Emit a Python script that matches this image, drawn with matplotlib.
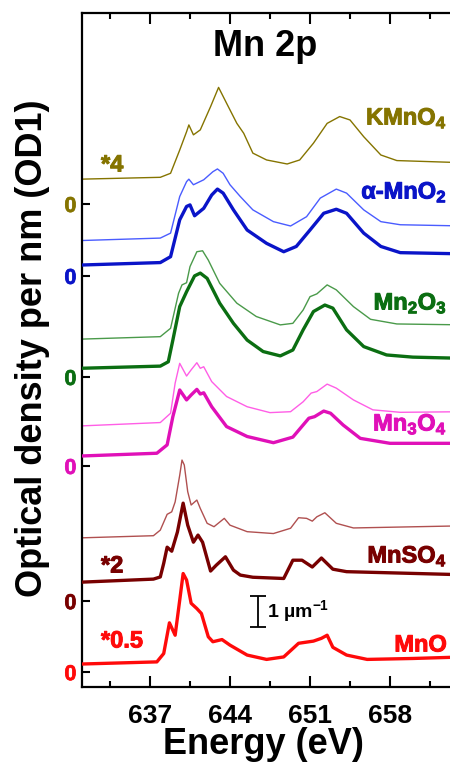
import matplotlib
matplotlib.use("Agg")
import matplotlib.pyplot as plt
import matplotlib.patheffects as pe
from matplotlib.ticker import MultipleLocator

plt.rcParams["font.family"] = ["Liberation Sans", "DejaVu Sans"]
plt.rcParams["font.weight"] = "bold"
plt.rcParams["axes.labelweight"] = "bold"
plt.rcParams["mathtext.fontset"] = "custom"
plt.rcParams["mathtext.bf"] = "Liberation Sans:bold"
plt.rcParams["mathtext.rm"] = "Liberation Sans:bold"
plt.rcParams["mathtext.default"] = "bf"

# ---- data: energies (eV) and optical density (um^-1) relative to each zero ----
names = [r"$\mathbf{KMnO_4}$", r"$\mathbf{α}$-$\mathbf{MnO_2}$", r"$\mathbf{Mn_2O_3}$",
         r"$\mathbf{Mn_3O_4}$", r"$\mathbf{MnSO_4}$", "MnO"]
zeros = [15.58, 13.26, 10.0, 7.13, 2.77, 0.48]
factors = ["*4", None, None, None, "*2", "*0.5"]
thick_colors = ["#857400", "#0a14c8", "#0b6e12", "#e010b8", "#780000", "#ff0a0a"]
thin_colors = ["#857400", "#4a5cff", "#4a9a4a", "#ff5ee6", "#b05050", None]

kmno4_e = [630.9, 637.9, 638.8, 639.6, 640.2, 640.4, 640.8, 641.4, 642.3, 643.0, 643.7,
           644.6, 645.2, 646.0, 647.2, 649.0, 650.1, 651.3, 652.5, 653.6, 654.5, 655.7,
           657.2, 658.6, 664.5]
kmno4_od = [0.80, 0.86, 0.99, 1.74, 2.33, 2.55, 2.23, 2.39, 3.14, 3.76, 3.25, 2.60, 2.28,
            1.64, 1.42, 1.29, 1.42, 1.96, 2.60, 2.82, 2.71, 2.17, 1.58, 1.40, 1.33]

amno2_thin_e = [630.9, 637.9, 638.8, 639.6, 640.2, 640.4, 640.8, 641.7, 642.5, 642.9, 643.4,
                644.0, 644.9, 646.0, 647.8, 649.3, 650.7, 651.9, 653.3, 654.2, 655.7, 657.2,
                658.9, 664.5]
amno2_thin_od = [1.14, 1.22, 1.38, 2.56, 3.04, 3.12, 2.94, 3.10, 3.36, 3.45, 3.31, 2.94, 2.56,
                 2.13, 1.75, 1.61, 1.91, 2.51, 2.80, 2.67, 2.13, 1.75, 1.65, 1.61]
amno2_e = [630.9, 637.9, 638.8, 639.6, 640.2, 640.5, 640.9, 641.7, 642.4, 642.9, 643.4, 644.3,
           645.5, 647.2, 648.7, 649.8, 651.0, 652.2, 653.3, 654.2, 655.7, 657.2, 658.9, 664.5]
amno2_od = [0.35, 0.43, 0.62, 1.81, 2.24, 2.29, 1.94, 2.18, 2.61, 2.80, 2.67, 2.13, 1.48, 1.05,
            0.78, 0.95, 1.48, 2.02, 2.15, 2.02, 1.38, 0.95, 0.75, 0.71]

mn2o3_thin_e = [630.9, 637.9, 638.8, 639.5, 639.8, 640.2, 640.5, 641.1, 641.6, 642.1, 643.1,
                644.6, 646.3, 648.4, 649.5, 650.4, 651.0, 651.6, 652.5, 653.3, 654.8, 656.3,
                658.6, 664.5]
mn2o3_thin_od = [1.22, 1.30, 1.57, 2.70, 2.97, 3.04, 3.56, 4.04, 4.07, 3.77, 3.02, 2.38, 1.95,
                 1.68, 1.73, 2.16, 2.59, 2.68, 2.97, 2.81, 2.27, 1.86, 1.71, 1.68]
mn2o3_e = [630.9, 637.9, 638.6, 639.0, 639.6, 640.2, 640.9, 641.4, 642.0, 643.1, 644.3, 645.5,
           646.9, 648.4, 649.5, 650.4, 651.3, 652.3, 653.0, 654.2, 655.7, 657.7, 660.0, 664.5]
mn2o3_od = [0.28, 0.35, 0.49, 1.19, 2.27, 2.75, 3.26, 3.35, 3.18, 2.38, 1.73, 1.19, 0.82, 0.68,
            0.87, 1.52, 2.11, 2.32, 2.22, 1.52, 0.98, 0.71, 0.64, 0.60]

mn3o4_thin_e = [630.9, 637.9, 638.8, 639.2, 639.6, 640.2, 640.6, 641.1, 641.4, 641.7, 642.4,
                643.7, 645.5, 647.5, 649.3, 650.4, 651.1, 651.6, 652.5, 653.3, 654.8, 656.5,
                658.9, 664.5]
mn3o4_thin_od = [1.29, 1.40, 1.70, 2.67, 3.31, 2.90, 3.10, 3.33, 3.15, 3.20, 2.72, 2.24, 1.91,
                 1.72, 1.75, 2.07, 2.35, 2.40, 2.64, 2.51, 2.13, 1.81, 1.73, 1.75]
mn3o4_e = [630.9, 637.6, 638.5, 639.0, 639.6, 640.2, 640.6, 641.1, 641.4, 641.7, 642.4, 643.7,
           645.5, 647.8, 649.5, 650.9, 651.4, 652.2, 652.8, 653.9, 655.4, 658.0, 664.5]
mn3o4_od = [0.32, 0.41, 0.68, 1.59, 2.45, 2.13, 2.29, 2.47, 2.32, 2.36, 1.91, 1.27, 0.95, 0.75,
            0.93, 1.54, 1.59, 1.77, 1.70, 1.32, 0.89, 0.73, 0.73]

mnso4_thin_e = [630.9, 637.3, 637.9, 638.5, 638.9, 639.2, 639.6, 639.8, 640.0, 640.3, 640.6,
                641.1, 641.4, 642.0, 642.6, 643.5, 644.0, 645.5, 647.8, 649.3, 650.0, 650.7,
                651.2, 651.6, 652.3, 653.3, 654.8, 664.5]
mnso4_thin_od = [2.04, 2.11, 2.29, 2.80, 2.88, 3.20, 4.06, 4.55, 4.39, 3.53, 3.10, 3.26, 2.99,
                 2.51, 2.40, 2.67, 2.45, 2.24, 2.18, 2.35, 2.69, 2.67, 2.58, 2.72, 2.85, 2.51,
                 2.36, 2.43]
mnso4_e = [630.9, 637.3, 637.9, 638.2, 638.5, 638.9, 639.4, 639.9, 640.3, 640.8, 641.2, 641.6,
           642.3, 642.8, 643.6, 644.3, 644.9, 646.0, 648.7, 649.5, 650.3, 651.2, 652.0, 653.0,
           654.2, 664.5]
mnso4_od = [0.61, 0.71, 0.78, 1.22, 1.74, 1.61, 2.23, 3.16, 2.45, 1.90, 2.13, 1.90, 0.97, 1.16,
            1.43, 1.00, 0.84, 0.77, 0.73, 1.32, 1.32, 1.10, 1.39, 1.03, 0.95, 0.85]

mno_e = [630.9, 637.6, 638.2, 638.7, 639.2, 639.6, 639.9, 640.2, 640.6, 641.1, 641.5, 642.1,
         642.5, 643.3, 644.0, 645.5, 647.2, 648.7, 649.5, 650.0, 651.3, 652.0, 652.5, 653.0,
         654.2, 656.0, 660.0, 664.5]
mno_od = [0.26, 0.33, 0.60, 1.59, 1.19, 2.32, 3.18, 2.97, 2.22, 2.05, 1.89, 1.14, 0.98, 1.05,
          0.87, 0.55, 0.41, 0.49, 0.76, 0.93, 1.00, 1.09, 1.19, 0.80, 0.55, 0.41, 0.44, 0.49]

thin_curves = [(kmno4_e, kmno4_od), (amno2_thin_e, amno2_thin_od),
               (mn2o3_thin_e, mn2o3_thin_od), (mn3o4_thin_e, mn3o4_thin_od),
               (mnso4_thin_e, mnso4_thin_od), None]
thick_curves = [None, (amno2_e, amno2_od), (mn2o3_e, mn2o3_od), (mn3o4_e, mn3o4_od),
                (mnso4_e, mnso4_od), (mno_e, mno_od)]

major_ticks = [637, 644, 651, 658]
scalebar_e, scalebar_y0, scalebar_len = 646.45, 1.94, 1.0


def heavy(color, w=0.7):
    # a thin outline in the text colour, the reference glyphs are a touch heavier
    return [pe.withStroke(linewidth=w, foreground=color)]


# ---- figure ----
fig = plt.figure(figsize=(4.5, 7.71), dpi=100)
ax = fig.add_axes([82 / 450, 84 / 771, 378 / 450, 674 / 771])
ax.set_xlim(631.05, 664.125)
ax.set_ylim(0, 21.74)

for i, z in enumerate(zeros):
    if thin_curves[i] is not None:
        e, od = thin_curves[i]
        ax.plot(e, [v + z for v in od], color=thin_colors[i], lw=1.0, zorder=2,
                solid_joinstyle="round")
    if thick_curves[i] is not None:
        e, od = thick_curves[i]
        ax.plot(e, [v + z for v in od], color=thick_colors[i], lw=2.4, zorder=3,
                solid_joinstyle="round")

# compound labels (right) and scaling factors (left), positions in figure pixels
label_y = [118, 192, 303, 424, 556, 645]
for name, ly, c in zip(names, label_y, thick_colors):
    fig.text(447 / 450, 1 - ly / 771, name, ha="right", va="center", fontsize=17, color=c,
             path_effects=heavy(c))
factor_y = [165, None, None, None, 566, 641]
for f, fy, c in zip(factors, factor_y, thick_colors):
    if f:
        fig.text(101 / 450, 1 - fy / 771, f, ha="left", va="center", fontsize=17, color=c,
                 path_effects=heavy(c))

# scale bar
ax.errorbar([scalebar_e], [scalebar_y0 + scalebar_len / 2], yerr=[scalebar_len / 2],
            color="black", lw=1.3, capsize=6, capthick=1.3)
ax.text(scalebar_e + 0.8, scalebar_y0 + scalebar_len / 2, r"1 µm$\mathregular{^{-1}}$",
        ha="left", va="center", fontsize=14)

fig.text(265 / 450, 1 - 47 / 771, "Mn 2p", ha="center", va="center", fontsize=26)

# axes styling
ax.set_xticks(major_ticks)
ax.xaxis.set_minor_locator(MultipleLocator(3.5))
ax.tick_params(axis="x", which="major", direction="in", length=8, width=1.5,
               top=True, labelsize=19, pad=12)
ax.tick_params(axis="x", which="minor", direction="in", length=4.5, width=1.5, top=True)
ax.set_yticks(zeros, ["0"] * len(zeros))
ax.tick_params(axis="y", direction="in", length=6, width=1.5, labelsize=15.5, pad=4)
for tick, c in zip(ax.yaxis.get_major_ticks(), thick_colors):
    tick.tick1line.set_color(c)
    tick.label1.set_color(c)
    tick.label1.set_path_effects(heavy(c, 0.5))
for s in ["left", "bottom", "top"]:
    ax.spines[s].set_linewidth(1.6)
ax.spines["right"].set_visible(False)

ax.set_xlabel("Energy (eV)", fontsize=26, fontweight="bold")
ax.xaxis.set_label_coords((263 - 82) / 378, -(762 - 687) / 674)
ax.xaxis.label.set_va("bottom")
ax.set_ylabel("Optical density per nm (OD1)", fontsize=26, fontweight="bold")
ax.yaxis.set_label_coords(-(82 - 50) / 378, (687 - 348) / 674)

fig.savefig("out.png", dpi=100, facecolor="white")
